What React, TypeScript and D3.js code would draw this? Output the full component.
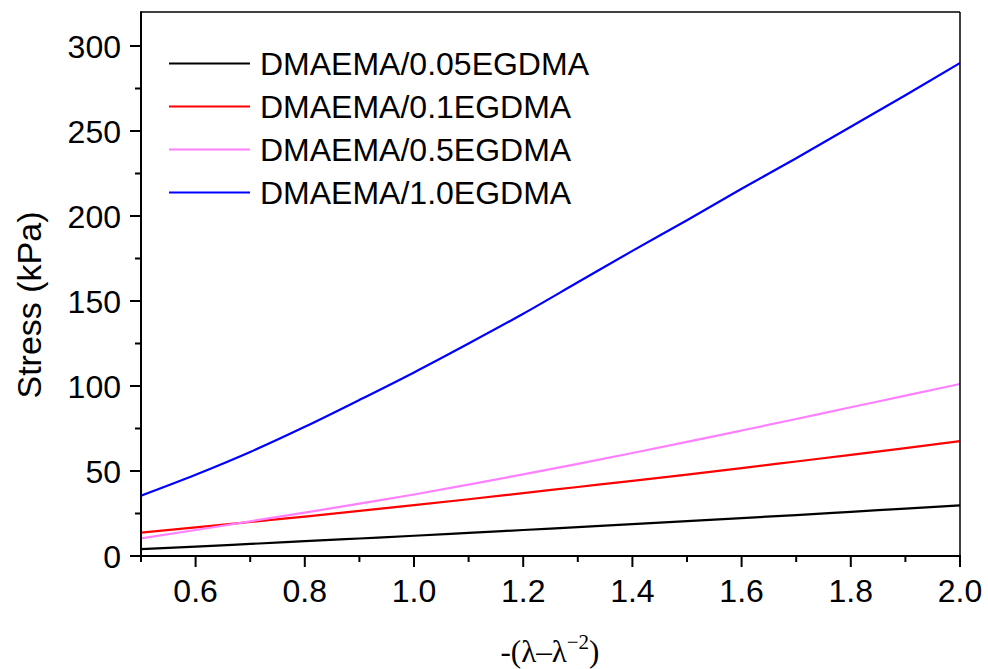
import React from "react";
import * as d3 from "d3";

const xValues = [0.5, 0.6, 0.7, 0.8, 0.9, 1.0, 1.1, 1.2, 1.3, 1.4, 1.5, 1.6, 1.7, 1.8, 1.9, 2.0];
const black005 = [4.0, 5.5, 7.1, 8.7, 10.3, 11.9, 13.6, 15.3, 17.0, 18.7, 20.5, 22.3, 24.1, 26.0, 27.9, 29.8];
const red01 = [13.7, 16.8, 20.0, 23.2, 26.5, 29.9, 33.4, 37.0, 40.6, 44.2, 47.9, 51.7, 55.6, 59.5, 63.5, 67.6];
const pink05 = [10.4, 15.3, 20.4, 25.5, 30.8, 36.2, 42.0, 48.0, 54.2, 60.6, 67.1, 73.8, 80.6, 87.5, 94.3, 101.2];
const blue10 = [35.5, 47.8, 61.2, 76.0, 91.8, 108.0, 125.0, 142.5, 161.0, 179.5, 197.5, 216.0, 234.0, 252.5, 271.0, 290.0];

const seriesNames = ["DMAEMA/0.05EGDMA", "DMAEMA/0.1EGDMA", "DMAEMA/0.5EGDMA", "DMAEMA/1.0EGDMA"];
const seriesValues = [black005, red01, pink05, blue10];
const seriesColors = ["#000000", "#ff0000", "#ff80ff", "#0000ff"];

const xMajorTicks = [0.6, 0.8, 1.0, 1.2, 1.4, 1.6, 1.8, 2.0];
const xMinorTicks = [0.5, 0.7, 0.9, 1.1, 1.3, 1.5, 1.7, 1.9];
const yMajorTicks = [0, 50, 100, 150, 200, 250, 300];
const yMinorTicks = [25, 75, 125, 175, 225, 275];

const W = 988, H = 669;
const L = 141, R = 960, T = 12, B = 556;

export default function App() {
  const x = d3.scaleLinear().domain([0.5, 2.0]).range([L, R]);
  const y = d3.scaleLinear().domain([0, 320]).range([B, T]);
  const line = d3.line<number>()
    .x((_, i) => x(xValues[i]))
    .y((d) => y(d))
    .curve(d3.curveMonotoneX);
  const font = "Arial, 'Liberation Sans', sans-serif";

  return (
    <svg width={W} height={H} style={{ position: "absolute", left: 0, top: 0, background: "#fff" }}>
      <defs>
        <clipPath id="plot">
          <rect x={L} y={T} width={R - L} height={B - T} />
        </clipPath>
      </defs>
      <rect x={0} y={0} width={W} height={H} fill="#fff" />
      {/* data */}
      <g clipPath="url(#plot)">
        {seriesValues.map((vals, i) => (
          <path key={i} d={line(vals) || ""} fill="none" stroke={seriesColors[i]} strokeWidth={2.2} />
        ))}
      </g>
      {/* frame */}
      <line x1={L} y1={T} x2={R} y2={T} stroke="#000" strokeWidth={1.5} />
      <line x1={R} y1={T} x2={R} y2={B} stroke="#000" strokeWidth={1.5} />
      <line x1={L} y1={T - 0.75} x2={L} y2={B + 1} stroke="#000" strokeWidth={2} />
      <line x1={L - 1} y1={B} x2={R + 1} y2={B} stroke="#000" strokeWidth={2} />
      {/* x ticks */}
      {xMajorTicks.map((t) => (
        <g key={"xm" + t}>
          <line x1={x(t)} x2={x(t)} y1={B} y2={B + 11} stroke="#000" strokeWidth={2} />
          <text x={x(t)} y={602} textAnchor="middle" fontFamily={font} fontSize={32} fill="#000">
            {t.toFixed(1)}
          </text>
        </g>
      ))}
      {xMinorTicks.map((t) => (
        <line key={"xn" + t} x1={x(t)} x2={x(t)} y1={B} y2={B + 6} stroke="#000" strokeWidth={2} />
      ))}
      {/* y ticks */}
      {yMajorTicks.map((t) => (
        <g key={"ym" + t}>
          <line x1={L - 11} x2={L} y1={y(t)} y2={y(t)} stroke="#000" strokeWidth={2} />
          <text x={121} y={y(t) + 11.5} textAnchor="end" fontFamily={font} fontSize={32} fill="#000">
            {t}
          </text>
        </g>
      ))}
      {yMinorTicks.map((t) => (
        <line key={"yn" + t} x1={L - 6} x2={L} y1={y(t)} y2={y(t)} stroke="#000" strokeWidth={2} />
      ))}
      {/* axis titles */}
      <text transform={`translate(41,305) rotate(-90)`} textAnchor="middle" fontFamily={font} fontSize={34} fill="#000">
        Stress (kPa)
      </text>
      <text x={550} y={662} textAnchor="middle" fontFamily="'Liberation Serif', 'Times New Roman', serif" fontSize={31} fill="#000">
        -(λ–λ<tspan dy={-13} fontSize={21}>−2</tspan><tspan dy={13}>)</tspan>
      </text>
      {/* legend */}
      {seriesNames.map((name, i) => {
        const ly = 63.5 + i * 43;
        return (
          <g key={name}>
            <line x1={169} x2={250} y1={ly} y2={ly} stroke={seriesColors[i]} strokeWidth={2.2} />
            <text x={260} y={ly + 11.5} fontFamily={font} fontSize={32} fill="#000">
              {name}
            </text>
          </g>
        );
      })}
    </svg>
  );
}
